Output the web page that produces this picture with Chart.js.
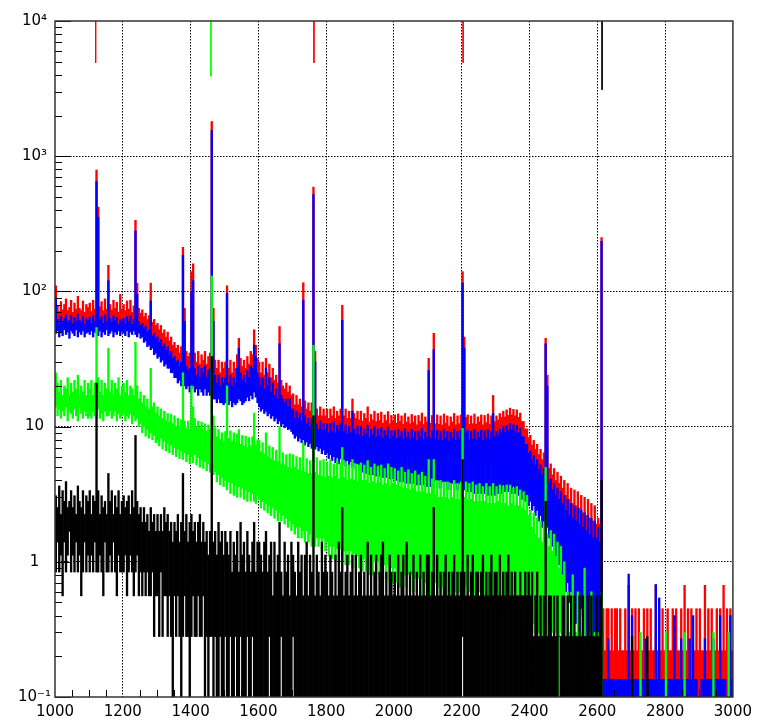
<!DOCTYPE html>
<html><head><meta charset="utf-8">
<script src="https://cdn.jsdelivr.net/npm/chart.js@4/dist/chart.umd.min.js"></script>
<style>html,body{margin:0;padding:0;background:#fff;}canvas{display:block;}</style>
</head><body>
<canvas id="c" width="758" height="724"></canvas>
<script>
// Histogram binning (keV). For every 5 keV slice the lowest and highest
// level reached by the spectrum inside that slice is read from the picture.
const binStart = 1000;
const binWidth = 5;

const redHigh = [
 110,78,71,84,73,80,88,72,76,86,70,82,74,92,75,72,85,70,80,76,
 82,71,86,74,790,420,77,84,72,88,74,156,80,73,86,75,83,70,95,74,
 80,72,85,74,86,70,78,336,115,75,69,73,65,69,62,66,115,59,62,56,
 58,52,56,49,52,46,50,43,46,40,42,38,40,35,39,212,75,36,33,35,
 140,160,35,30,36,29,34,31,36,29,33,35,1800,75,31,27,31,25,30,27,
 30,110,27,31,25,30,27,34,45,32,28,31,27,33,29,36,34,52,40,32,
 30,25,30,24,32,25,29,23,27,22,24,21,55,22,20,19,21,18,20,17,
 17.5,14.5,17,14.5,16,14,116,15.5,13.5,15,13,15,590,36,13.5,12,14,12,13.5,12,
 13.5,11.5,13.5,12,14,11.5,13,12,13.5,79,12,13.5,11.5,13,11.5,16,12.5,11.5,13,11.2,
 13,11,12.5,11.5,14,10.8,12.3,11.2,13,10.9,12.5,11.1,12.8,10.6,12.2,11.1,12.9,10.5,12.1,11,
 12.2,10.6,12.4,10.9,12,10.4,12.5,10.8,11.8,10.5,12.3,10.8,12,10.3,12.1,10.9,12.6,10.4,11.8,10.8,
 32,10.6,12.1,49,10.5,12.2,10.4,12,10.3,12.4,10.6,12,10.1,11.8,10.8,12.5,10.3,12,10.5,12.2,
 140,46,11.7,12.2,10.4,12,10.5,12.4,10.4,11.8,10.8,12.2,10.3,12.1,10.7,12.4,10.4,12,17,10.9,
 12,11.2,12.5,11.7,13,11.8,13.3,12.1,13.7,12.2,13.4,12,13.3,11.7,12.6,10.9,10.9,9.6,9.6,8.3,
 8.6,7.3,7.9,6.8,7.4,6.2,6.8,5.7,6.4,45,24,4.9,5.3,4.4,4.9,4,4.6,3.8,4.3,3.5,
 4,3.1,3.8,2.9,3.5,2.7,3.4,2.6,3.3,2.5,3.1,2.3,3,2.2,2.9,2.1,2.7,2,2.6,1.9,
 2.1,1.9,250,0.45,0.22,0.45,0.45,0.22,0.45,0.22,0.45,0.45,0.22,0.45,0.22,0.22,0.45,0.22,0.67,0.22,
 0.45,0.22,0.45,0.22,0.45,0.22,0.22,0.45,0.22,0.45,0.22,0.45,0.22,0.22,0.67,0.22,0.45,0.22,0.45,0.22,
 0.22,0.45,0.22,0.22,0.45,0.22,0.45,0.22,0.22,0.45,0.22,0.67,0.22,0.45,0.22,0.45,0.22,0.22,0.45,0.22,
 0.45,0.22,0.22,0.67,0.22,0.45,0.22,0.45,0.22,0.22,0.45,0.22,0.45,0.22,0.67,0.22,0.45,0.22,0.45,0.22
];
const redLow = [
 55,54,56,53,55,57,54,56,53,55,54,56,55,53,56,54,55,57,54,55,
 54,56,53,55,57,55,54,56,55,53,56,57,54,55,53,56,55,54,56,55,
 55,54,56,53,55,54,55,55,54,53,51,50,48,47,45,44,43,42,40,39,
 37,36,35,34,33,32,31,30,29,28,27,25,24,24,23,24,23,22,22,22,
 22,22,21,22,21,21,22,20,21,21,20,21,20,20,19,19,19,18,19,18,
 18,19,18,18,17,18,18,18,19,19,18,18,19,20,19,20,20,21,20,19,
 17,17,16,16,16,15,16,15,15,14,14,14,14,13,13,13,13,13,12,12,
 10.5,10.5,10,10,10,9.8,9.8,9.5,9.5,9.3,9.2,9.2,9,9,9,8.8,8.8,8.6,8.6,8.5,
 8,7.8,7.6,7.8,7.4,7.6,7.3,7.5,7.3,7.4,7.2,7.3,7.1,7.2,7,7.1,7,6.8,7,6.8,
 6.8,6.6,6.8,6.5,6.6,6.4,6.6,6.5,6.4,6.5,6.3,6.5,6.4,6.3,6.4,6.2,6.3,6.3,6.2,6.3,
 6.3,6.2,6.2,6.1,6.2,6,6.2,6.1,6,6.1,6,6.1,5.9,6,6,5.9,6,5.9,5.9,6,
 5.9,5.8,5.9,5.8,5.7,5.8,5.7,5.8,5.6,5.7,5.7,5.6,5.7,5.6,5.6,5.7,5.5,5.6,5.6,5.5,
 5.5,5.6,5.5,5.4,5.5,5.4,5.5,5.3,5.4,5.4,5.3,5.4,5.3,5.3,5.4,5.2,5.3,5.3,5.2,5.3,
 4.2,4.3,4.2,4.3,4.4,4.3,4.4,4.3,4.4,4.3,4.3,4.2,4.2,4.1,4,3.9,3.7,3.6,3.5,3.4,
 3.2,3.1,3,2.9,2.8,2.6,2.5,2.4,2.4,2.3,2.2,2,1.9,1.8,1.7,1.6,1.4,1.3,1.2,1.1,
 1,0.9,0.8,0.7,0.67,0.6,0.5,0.55,0.5,0.45,0.5,0.4,0.45,0.35,0.4,0.35,0.35,0.3,0.35,0.3,
 0.3,0.25,0.6,0,0,0,0,0,0,0,0,0,0,0,0,0,0,0,0,0,
 0,0,0,0,0,0,0,0,0,0,0,0,0,0,0,0,0,0,0,0,
 0,0,0,0,0,0,0,0,0,0,0,0,0,0,0,0,0,0,0,0,
 0,0,0,0,0,0,0,0,0,0,0,0,0,0,0,0,0,0,0,0
];

const blueHigh = [
 90,62,58,65,60,63,67,59,61,66,58,64,60,68,61,59,65,57,63,61,
 64,58,66,60,650,355,62,65,58,67,60,120,63,59,66,61,64,57,62,60,
 63,58,65,60,66,57,62,280,95,60,56,58,53,55,50,52,85,47,49,45,
 46,42,44,39,41,37,39,34,36,32,33,30,31,28,30,185,60,28,26,27,
 100,120,27,24,28,23,27,25,28,23,26,27,1550,60,24,21,24,20,23,21,
 23,97,21,24,20,23,21,27,38,25,22,24,21,26,23,28,27,40,33,25,
 23,20,23,19,27,20,23,18,21,17,19,16,41,17,16,15,16,14,16,13.5,
 13.5,11.5,13,11.5,12.5,11,86,12,10.5,11.5,10,11.5,520,30,10.5,9.5,11,9.5,10.5,9.5,
 10.5,9,10.5,9.2,10.8,9,10.2,9.3,10.5,61,9.2,10.3,8.8,10,9,13,9.6,8.8,10,8.7,
 10,8.5,9.6,8.8,10.2,8.3,9.5,8.7,10,8.4,9.6,8.6,9.8,8.2,9.4,8.6,9.9,8.1,9.3,8.5,
 9.4,8.2,9.5,8.4,9.2,8,9.6,8.3,9.1,8.1,9.5,8.3,9.2,7.9,9.3,8.4,9.7,8,9.1,8.3,
 26,8.2,9.3,37,8.1,9.4,8,9.2,7.9,9.5,8.2,9.2,7.8,9.1,8.3,9.6,7.9,9.2,8.1,9.4,
 115,38,9,9.4,8,9.2,8.1,9.5,8,9.1,8.3,9.4,7.9,9.3,8.2,9.5,8,9.2,12.5,8.4,
 9.2,8.6,9.6,9,10,9.1,10.2,9.3,10.5,9.4,10.3,9.2,10.2,9,9.7,8.4,8.4,7.4,7.4,6.4,
 6.6,5.6,6.1,5.2,5.7,4.8,5.2,4.4,4.9,41,20,3.8,4.1,3.4,3.8,3.1,3.5,2.9,3.3,2.7,
 3.1,2.4,2.9,2.2,2.7,2.1,2.6,2,2.5,1.9,2.4,1.8,2.3,1.7,2.2,1.6,2.1,1.5,2,1.5,
 1.8,1.4,235,0.135,0.135,0.135,0.27,0.135,0.135,0.135,0.135,0.135,0.135,0.135,0.135,0.135,0.135,0.135,0.81,0.135,
 0.4,0.135,0.135,0.135,0.135,0.135,0.135,0.135,0.27,0.135,0.135,0.135,0.135,0.135,0.68,0.135,0.54,0.135,0.135,0.135,
 0.135,0.135,0.135,0.135,0.135,0.4,0.135,0.135,0.135,0.27,0.135,0.135,0.135,0.135,0.27,0.135,0.4,0.135,0.135,0,
 0,0.135,0.135,0.27,0.135,0.135,0.135,0.135,0.27,0.135,0.135,0.135,0.4,0.135,0.135,0.135,0,0.135,0.4,0.135
];
const blueLow = [
 49,51,46,50,47,52,48,50,45,51,49,47,52,46,50,48,51,46,49,50,
 48,51,46,50,49,47,51,46,50,48,52,47,49,51,46,50,48,51,47,50,
 49,47,51,46,50,48,51,48,46,49,45,46,42,43,39,40,37,38,34,35,
 32,33,30,31,28,29,27,27,25,25,23,23,21,22,20,21,20,19,20,18,
 19,20,18,19,17,19,18,17,19,17,18,17,17,16,16,15,16,15,15,14.5,
 15,16,14.5,15.5,14,15,14.5,15,16,15.5,14.5,15,15.5,16.5,15.5,17,16,18,16.5,15,
 14,13,13.5,12.5,13,12,12.5,11.5,12,11,11.5,10.5,11,10,10.5,9.8,10,9.5,9.6,9.2,
 8.8,8.2,8.5,7.8,8.2,7.6,8,7.3,7.7,7.1,7.5,6.9,7.3,6.8,7.1,6.6,6.9,6.3,6.7,6.2,
 6.4,5.8,6.2,5.6,6,5.4,5.9,5.3,5.8,5.2,5.7,5.1,5.6,5,5.5,5,5.4,4.8,5.3,4.8,
 5.2,4.6,5.1,4.5,5,4.4,4.9,4.4,4.8,4.3,4.8,4.3,4.7,4.2,4.7,4.2,4.6,4.1,4.6,4.1,
 4.5,4,4.5,3.9,4.4,3.9,4.4,3.8,4.3,3.8,4.3,3.8,4.2,3.7,4.2,3.7,4.1,3.7,4.1,3.6,
 4.1,3.6,4,3.6,4,3.5,4,3.5,3.9,3.5,3.9,3.4,3.9,3.4,3.8,3.4,3.8,3.4,3.8,3.3,
 3.8,3.4,3.7,3.3,3.7,3.3,3.7,3.2,3.6,3.2,3.6,3.2,3.6,3.2,3.6,3.1,3.5,3.1,3.5,3.1,
 3.5,3.2,3.6,3.2,3.7,3.3,3.7,3.3,3.7,3.2,3.6,3.2,3.5,3.1,3.4,2.9,3.2,2.8,3,2.6,
 2.8,2.4,2.6,2.2,2.4,2,2.2,1.8,2,1.7,1.8,1.5,1.6,1.3,1.4,1.1,1.2,0.95,1,0.8,
 0.85,0.6,0.7,0.5,0.6,0.4,0.55,0.35,0.5,0.3,0.45,0.27,0.4,0.27,0.35,0.2,0.3,0.2,0.27,0.15,
 0.2,0.15,0.5,0,0,0,0,0,0,0,0,0,0,0,0,0,0,0,0,0,
 0,0,0,0,0,0,0,0,0,0,0,0,0,0,0,0,0,0,0,0,
 0,0,0,0,0,0,0,0,0,0,0,0,0,0,0,0,0,0,0,0,
 0,0,0,0,0,0,0,0,0,0,0,0,0,0,0,0,0,0,0,0
];

const greenHigh = [
 25,21,18,22,17,20,19,23,17,21,18,22,19,24,17,20,18,22,17,21,
 19,22,17,21,54,23,18,22,17,21,19,38,18,22,17,21,19,23,17,20,
 21,18,22,17,20,19,17,42,20,16,18,15,17,14,16,13.5,27,14,15,12.5,
 14,12,13.5,11.5,13,11,12.5,10.8,12.3,10.5,12,10,11.5,10,11.2,25,11,9.8,11,9.5,
 20,14,11.5,10,11,9.8,10.8,9.6,10.5,9.3,10.3,9.5,130,12,9.8,8.4,9.5,8,9,7.8,
 9.2,20,8.2,9.3,7.8,9,7.6,8.8,9.5,7.4,8.6,7.2,8.5,7,8.3,7.2,8.4,12.6,7.3,8,
 7.9,6.5,7.6,6.3,9,6,7.2,5.8,7,5.6,6.7,5.5,10,5.3,6.4,5.2,6.2,5,6.3,4.9,
 6.2,5,6,4.8,5.9,4.7,7.6,4.6,5.8,4.5,5.6,4.5,40,4.6,5.9,4.4,5.6,4.3,5.7,4.2,
 5.5,4.3,5.7,4.2,5.3,4.3,5.6,4.1,5.4,7,4.2,5.5,4,5.2,4.1,5.7,4,5.3,3.9,5.2,
 5.4,4,5.2,4,5.6,3.8,5,3.9,5.3,3.8,5.1,3.9,5.2,3.7,4.9,3.8,5.3,3.6,5,3.8,
 4.9,3.7,4.7,3.6,5,3.5,4.6,3.5,4.8,3.4,4.5,3.5,4.7,3.3,4.4,3.3,4.6,3.3,4.3,3.2,
 5.7,3.2,4.1,5.7,3.1,4,3,4,3,3.9,3,3.9,2.9,3.8,3,4,2.9,3.8,2.9,3.9,
 9.7,3,3.9,2.9,3.8,2.9,3.9,2.8,3.7,2.8,3.8,2.8,3.6,2.8,3.8,2.7,3.6,2.7,3.8,2.7,
 3.6,2.8,3.7,2.7,3.6,2.7,3.7,2.6,3.7,2.7,3.5,2.6,3.6,2.6,3.4,2.5,3.3,2.4,3.1,2.2,
 2.4,1.8,2.3,1.6,2.1,1.5,2,1.4,1.9,5,1.6,1.3,1.7,1.2,1.6,1.1,1.4,0.9,1.3,0.8,
 1,0,0.6,0.3,0,0.8,0,0.3,0.6,0,0.3,0,0.9,0,0.3,0,0.6,0,0.3,0,
 0.3,0,0.6,0,0,0,0,0,0,0,0,0,0,0,0,0,0,0,0,0,
 0,0,0,0,0,0.3,0,0,0,0,0,0,0,0,0,0,0,0,0,0,
 0.3,0,0,0,0,0,0,0,0,0,0,0.3,0,0,0,0,0,0,0,0,
 0,0,0,0,0,0,0,0,0.3,0,0,0,0,0,0,0,0,0.3,0,0
];
const greenLow = [
 14,12,13.5,11.5,13,12,14,11,13,12.5,11.5,13.5,12,11,14,12.5,11.5,13,12,11.5,
 12,11.5,13,12,12,13.5,11.5,12.5,11,13,12,12,13,11.5,12,13,11,12.5,11.5,12,
 12.5,11,12,11.5,12.5,10.5,12,11,11.5,10,10.5,9,10,8.5,9.5,8.2,9,8,8.6,7.6,
 8,7.2,8.2,6.8,7.8,6.6,7.5,6.4,7.3,6.2,7,6,6.8,5.8,6.6,5.7,6.4,5.5,6.2,5.3,
 6,5.4,6.2,5.2,5.9,5,5.7,4.9,5.5,4.7,5.3,4.6,4.8,4.4,4.6,3.9,4.4,3.7,4.2,3.6,
 4,3.4,3.9,3.2,3.8,3.1,3.7,3,3.6,3,3.5,2.9,3.4,2.8,3.3,2.8,3.2,2.8,2.7,3.1,
 2.9,2.5,2.8,2.4,2.7,2.3,2.6,2.2,2.5,2.1,2.4,2,2.3,2,2.2,1.9,2.1,1.8,2,1.7,
 1.9,1.6,1.8,1.5,1.8,1.5,1.7,1.4,1.7,1.4,1.6,1.3,1.6,1.3,1.5,1.3,1.5,1.2,1.5,1.2,
 1.4,1.1,1.3,1.05,1.3,1,1.25,1,1.25,1,1.2,0.95,1.2,0.95,1.2,0.9,1.15,0.9,1.1,0.9,
 1.1,0.85,1.05,0.85,1.05,0.8,1,0.8,1,0.8,1,0.75,0.95,0.75,0.95,0.75,0.95,0.7,0.9,0.7,
 0.9,0.7,0.85,0.65,0.85,0.65,0.8,0.65,0.8,0.6,0.8,0.6,0.75,0.6,0.75,0.55,0.75,0.55,0.7,0.55,
 0.7,0.55,0.7,0.55,0.7,0.5,0.65,0.5,0.65,0.5,0.65,0.5,0.6,0.5,0.65,0.5,0.6,0.5,0.6,0.5,
 0.6,0.5,0.65,0.5,0.6,0.5,0.6,0.45,0.6,0.45,0.6,0.45,0.55,0.45,0.6,0.45,0.55,0.45,0.55,0.45,
 0.55,0.45,0.55,0.45,0.55,0.45,0.55,0.45,0.5,0.45,0.5,0.4,0.5,0.4,0.5,0.4,0.45,0.35,0.45,0.35,
 0.35,0.3,0.35,0.3,0.3,0.3,0.3,0,0.3,0.3,0,0.3,0,0.3,0,0.3,0,0,0.3,0,
 0,0,0,0,0,0,0,0,0,0,0,0,0,0,0,0,0,0,0,0,
 0,0,0,0,0,0,0,0,0,0,0,0,0,0,0,0,0,0,0,0,
 0,0,0,0,0,0,0,0,0,0,0,0,0,0,0,0,0,0,0,0,
 0,0,0,0,0,0,0,0,0,0,0,0,0,0,0,0,0,0,0,0,
 0,0,0,0,0,0,0,0,0,0,0,0,0,0,0,0,0,0,0,0
];

const blackHigh = [
 3.08,2.52,3.64,2.24,3.36,2.8,3.92,2.52,2.8,3.36,2.52,3.08,2.24,3.64,2.8,2.52,3.36,2.24,3.08,2.8,
 3.36,2.24,3.08,2.8,21,3.36,2.24,3.08,2.52,2.8,2.24,4.5,2.8,3.36,2.24,3.08,2.52,3.36,2.24,2.8,
 3.08,2.52,2.8,3.08,2.24,3.36,2.52,8.6,2.8,2.24,2.52,1.96,2.52,1.96,2.24,1.68,2.52,1.96,2.24,1.68,
 2.24,1.68,2.24,1.68,2.52,1.96,2.24,1.68,1.96,1.4,1.96,1.68,2.24,1.4,1.96,4.5,1.68,2.24,1.4,1.96,
 2.24,1.68,1.96,1.4,1.96,2.24,1.4,1.96,1.4,1.68,1.12,1.68,33,1.4,1.68,1.12,1.96,1.4,1.68,1.12,
 1.68,1.4,1.12,1.68,0.84,1.4,1.12,1.68,0.84,1.96,1.12,1.4,0.84,1.68,1.12,0.84,1.4,1.96,0.84,1.4,
 1.4,1.12,0.84,1.4,1.68,0.84,1.12,1.4,0.56,1.4,0.84,1.12,1.96,0.84,0.56,1.4,0.84,1.12,0.56,1.4,
 1.12,0.84,0.56,1.4,0.84,1.12,0.56,1.12,1.4,0.56,1.12,0.84,12,0.56,1.12,0.84,0.56,1.4,0.84,1.12,
 0.84,0.56,1.12,0.84,0.56,1.12,0.56,1.4,0.84,2.52,0.56,0.84,1.12,0.56,0.84,1.12,0.56,1.12,0.56,0.84,
 1.12,0.56,0.84,0.56,1.4,0.56,1.12,0.56,0.84,1.12,0.56,0.84,1.12,1.4,0.56,0.84,0.56,1.12,0.84,0.56,
 0.84,0.56,1.12,0.56,0.84,1.12,0.56,1.4,0.56,0.84,0.56,1.12,0.56,0.84,0.56,1.12,0.56,0.84,0.56,1.12,
 1.12,0.56,0.84,2.52,0.56,1.12,0.56,0.84,0.56,0.84,1.12,0.56,0.84,0.56,0.84,1.12,0.56,0.84,0.56,0.84,
 5.7,0.84,0.56,1.12,0.56,0.84,1.12,0.56,0.84,0.84,0.56,0.84,1.12,0.56,0.84,0.56,0.84,1.12,0.56,0.84,
 0.84,0.56,1.12,0.56,0.84,0.56,0.84,1.12,0.56,0.84,0.56,0.84,0.56,0.56,0.84,0.56,0.56,0.84,0.56,0.84,
 0.56,0.84,0.28,0.56,0.84,0.28,0.56,0.28,0.56,2.8,0.28,0.56,0.56,0.28,0.56,0.28,0.56,0.28,0.28,0.56,
 0.56,0.28,0.56,0.28,0.56,0.28,0.56,0.28,0.28,0.56,0.28,0.56,0.28,0.28,0.56,0.28,0.56,0.28,0.28,0.56,
 0.28,0.56,4,0,0,0,0,0,0,0,0,0,0,0,0,0,0,0,0,0,
 0.28,0,0,0,0,0,0,0,0,0.28,0,0,0,0,0,0,0,0,0,0,
 0,0,0,0,0,0,0,0,0,0,0,0,0,0,0,0,0,0,0,0,
 0,0,0,0,0,0,0,0,0,0,0,0,0,0,0,0,0,0,0,0
];
const blackLow = [
 0.84,1.4,0.84,1.12,0.56,1.4,0.84,1.12,1.68,0.84,1.12,0.84,1.4,0.84,1.12,0.56,0.84,1.4,0.84,1.12,
 0.84,1.12,0.84,1.4,0.84,0.84,1.12,0.84,0.56,1.4,0.84,0.84,1.12,0.84,1.4,0.84,0.56,1.12,0.84,0.84,
 0.84,1.12,0.56,0.84,1.12,0.84,0.56,0.84,1.12,0.56,0.84,0.56,0.84,0.56,0.84,0.56,0.56,0.84,0.28,0.56,
 0.56,0.28,0.84,0.28,0.56,0.56,0.28,0.56,0.28,0,0.56,0.28,0.56,0.28,0,0.28,0.56,0.28,0.28,0,
 0.28,0.56,0.28,0.28,0.56,0.28,0.28,0.56,0,0.28,0,0.28,0.28,0,0.28,0,0,0.28,0,0,
 0.28,0,0,0.28,0,0,0.28,0,0,0.28,0,0,0,0.28,0,0,0.28,0,0,0,
 0,0,0,0,0,0,0.28,0,0,0,0,0,0,0.28,0,0,0,0,0,0,
 0.28,0,0,0,0,0,0,0,0,0,0,0,0,0,0,0,0,0,0,0,
 0,0,0,0,0,0,0,0,0,0,0,0,0,0,0,0,0,0,0,0,
 0,0,0,0,0,0,0,0,0,0,0,0,0,0,0,0,0,0,0,0,
 0,0,0,0,0,0,0,0,0,0,0,0,0,0,0,0,0,0,0,0,
 0,0,0,0,0,0,0,0,0,0,0,0,0,0,0,0,0,0,0,0,
 0.28,0,0,0,0,0,0,0,0,0,0,0,0,0,0,0,0,0,0,0,
 0,0,0,0,0,0,0,0,0,0,0,0,0,0,0,0,0,0,0,0,
 0,0,0,0,0,0,0,0,0,0,0,0,0,0,0,0,0,0.28,0,0,
 0,0,0,0,0,0,0,0,0,0,0,0,0,0,0,0,0,0,0,0,
 0,0,0,0,0,0,0,0,0,0,0,0,0,0,0,0,0,0,0,0,
 0,0,0,0,0,0,0,0,0,0,0,0,0,0,0,0,0,0,0,0,
 0,0,0,0,0,0,0,0,0,0,0,0,0,0,0,0,0,0,0,0,
 0,0,0,0,0,0,0,0,0,0,0,0,0,0,0,0,0,0,0,0
];

// Line-energy markers hanging from the top of the frame
const markerEnergies = [1120, 1460, 1764, 2204, 2614];
const markerTop = [10000, 10000, 10000, 10000, 10000];
const markerBottom = [4900, 3900, 4900, 4900, 3100];

// Axis ticks
const xTickValues = [1000,1200,1400,1600,1800,2000,2200,2400,2600,2800,3000];
const xTickLabels = ['1000','1200','1400','1600','1800','2000','2200','2400','2600','2800','3000'];
const yTickValues = [0.1, 1, 10, 100, 1000, 10000];
const yTickLabels = ['10\u207B\u00B9', '1', '10', '10\u00B2', '10\u00B3', '10\u2074'];

// zero counts reach down below the bottom of the log axis
const yFloor = 0.01;
const lvl = v => (v > 0 ? v : yFloor);

function rangeBars(lo, hi) {
  return hi.map((h, i) => ({ x: binStart + (i + 0.5) * binWidth, y: [lvl(lo[i]), lvl(h)] }));
}

const seriesStyle = [
  { lo: blackLow, hi: blackHigh, color: '#000000', order: 1 },
  { lo: greenLow, hi: greenHigh, color: '#00ff00', order: 2 },
  { lo: blueLow, hi: blueHigh, color: '#0000ff', order: 3 },
  { lo: redLow, hi: redHigh, color: '#ff0000', order: 4 }
];
const markerColor = ['#ff0000', '#00ff00', '#ff0000', '#ff0000', '#000000'];

const datasets = seriesStyle.map(s => ({
  type: 'bar',
  data: rangeBars(s.lo, s.hi),
  backgroundColor: s.color,
  borderWidth: 0,
  grouped: false,
  barPercentage: 1,
  categoryPercentage: 1,
  clip: 0,
  order: s.order
}));
markerEnergies.forEach((e, i) => {
  datasets.push({
    type: 'line',
    data: [{ x: e, y: markerTop[i] }, { x: e, y: markerBottom[i] }],
    borderColor: markerColor[i],
    borderWidth: 1,
    pointRadius: 0,
    fill: false,
    clip: 0,
    order: 0
  });
});

const frameTicks = {
  id: 'frameTicks',
  afterDraw(chart) {
    const { ctx, chartArea: a, scales: { x, y } } = chart;
    ctx.save();
    ctx.strokeStyle = '#000';
    ctx.lineWidth = 1;
    ctx.beginPath();
    for (let d = -1; d < 4; d++) {
      for (let m = 2; m < 10; m++) {
        const py = Math.round(y.getPixelForValue(m * Math.pow(10, d))) + 0.5;
        ctx.moveTo(a.left, py); ctx.lineTo(a.left + 7, py);
      }
    }
    yTickValues.forEach(v => {
      const py = Math.round(y.getPixelForValue(v)) + 0.5;
      ctx.moveTo(a.left, py); ctx.lineTo(a.left + 16, py);
    });
    for (let e = binStart + 50; e < 3000; e += 50) {
      if (e % 200 === 0) continue;
      const px = Math.round(x.getPixelForValue(e)) + 0.5;
      ctx.moveTo(px, a.bottom); ctx.lineTo(px, a.bottom - 7);
    }
    ctx.stroke();
    ctx.strokeStyle = '#333';
    ctx.lineWidth = 1.5;
    ctx.strokeRect(a.left, a.top, a.right - a.left, a.bottom - a.top);
    ctx.restore();
  }
};

new Chart(document.getElementById('c'), {
  type: 'bar',
  data: { datasets },
  options: {
    responsive: false,
    animation: false,
    devicePixelRatio: 1,
    layout: { padding: { top: 21, right: 23, left: 0, bottom: 0 } },
    plugins: { legend: { display: false }, tooltip: { enabled: false } },
    scales: {
      x: {
        type: 'linear', min: 1000, max: 3000, offset: false, z: 1,
        afterBuildTicks: s => { s.ticks = xTickValues.map(v => ({ value: v })); },
        afterFit: s => { s.height = 27; },
        grid: {
          offset: false,
          drawTicks: false,
          lineWidth: 1,
          color: c => (c.tick && (c.tick.value === 1000 || c.tick.value === 3000)) ? 'rgba(0,0,0,0)' : '#000'
        },
        border: { display: false, dash: [1.5, 1.5] },
        ticks: {
          autoSkip: false, maxRotation: 0, padding: 6, color: '#000',
          font: { family: 'DejaVu Sans', size: 15 },
          callback: (v) => xTickLabels[xTickValues.indexOf(v)]
        }
      },
      y: {
        type: 'logarithmic', min: 0.1, max: 10000, z: 1,
        afterBuildTicks: s => { s.ticks = yTickValues.map(v => ({ value: v })); },
        afterFit: s => { s.width = 55; },
        grid: {
          drawTicks: false,
          lineWidth: 1,
          color: c => (c.tick && (c.tick.value === 0.1 || c.tick.value === 10000)) ? 'rgba(0,0,0,0)' : '#000'
        },
        border: { display: false, dash: [1.5, 1.5] },
        ticks: {
          autoSkip: false, padding: 4, color: '#000', crossAlign: 'center',
          font: { family: 'DejaVu Sans', size: 15 },
          callback: (v) => yTickLabels[yTickValues.indexOf(v)]
        }
      }
    }
  },
  plugins: [frameTicks]
});
</script>
</body></html>
